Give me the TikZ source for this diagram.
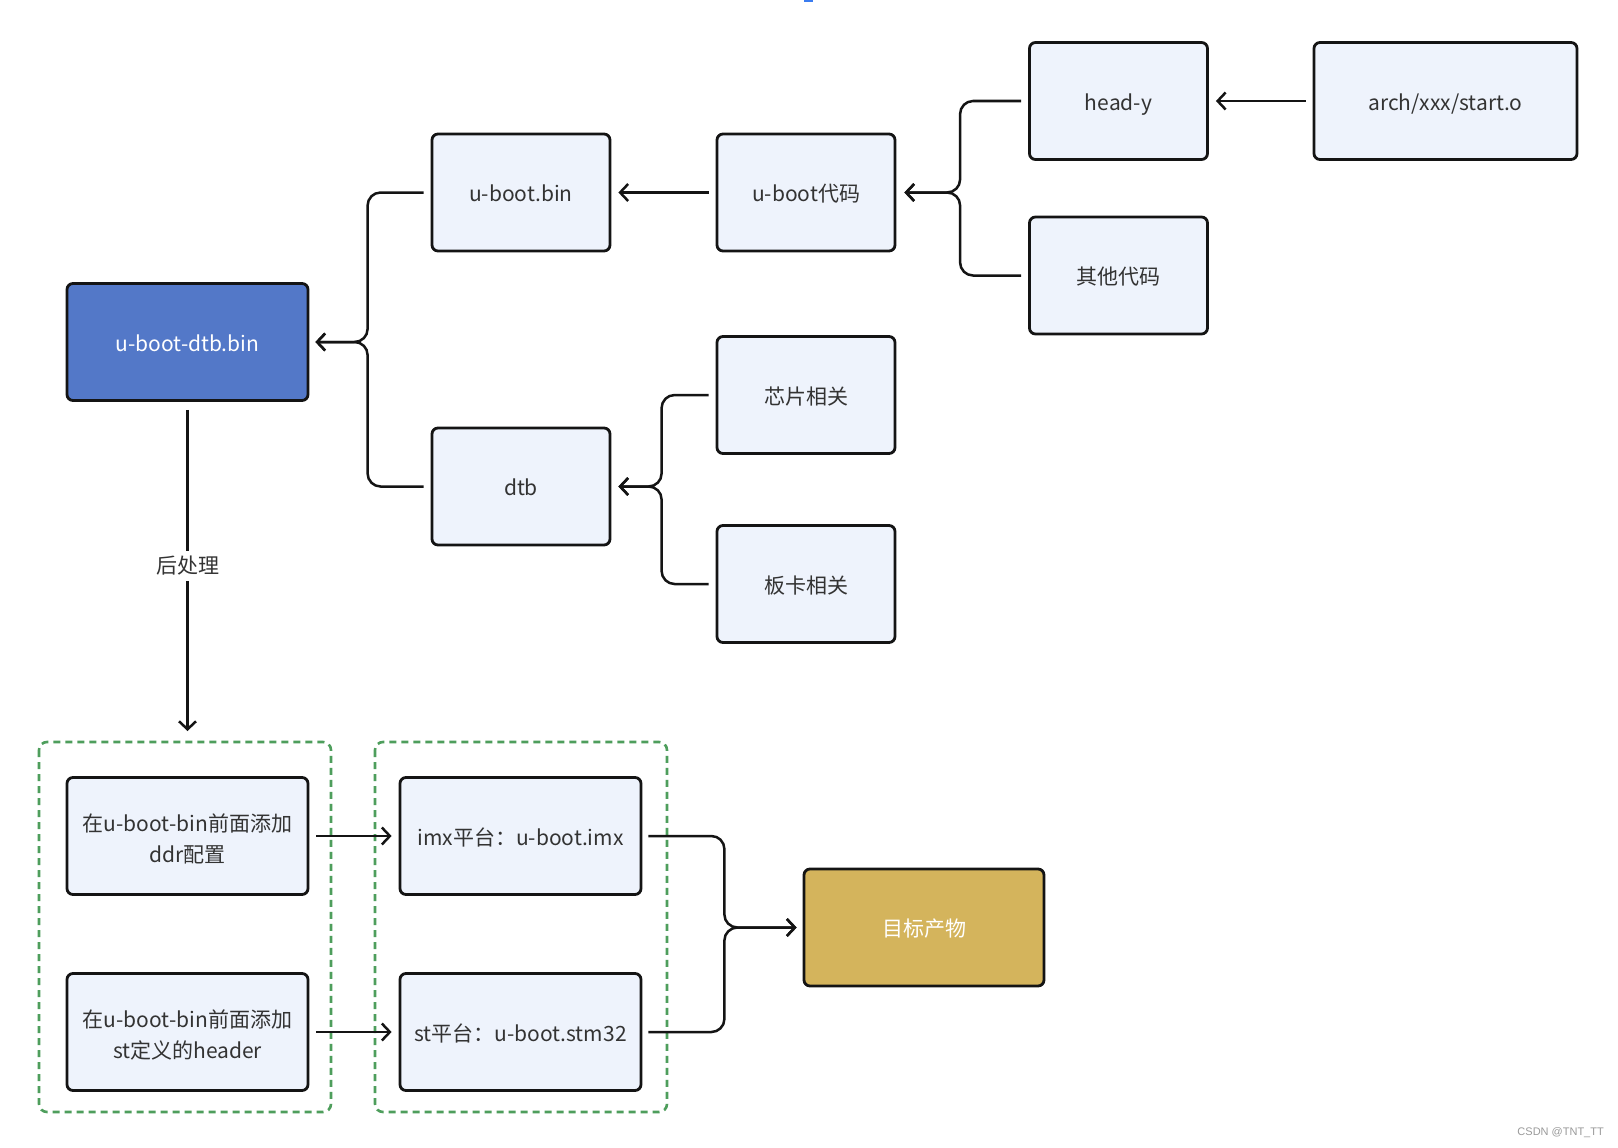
\documentclass[tikz,border=0pt]{standalone}
\usepackage{fontspec}
\setmainfont{Noto Sans CJK SC}
\newfontfamily\wmfont{Liberation Sans}
\usetikzlibrary{arrows.meta}
\definecolor{boxfill}{HTML}{EEF3FC}
\definecolor{boxline}{HTML}{141414}
\definecolor{txt}{HTML}{333333}
\definecolor{bluefill}{HTML}{5378C8}
\definecolor{goldfill}{HTML}{D4B45C}
\definecolor{grp}{HTML}{4E9E5C}
\definecolor{wm}{HTML}{9A9A9A}
\definecolor{topblue}{HTML}{3B7CF0}
\tikzset{
  box/.style={draw=boxline, line width=2.8pt, rounded corners=6pt, fill=boxfill,
    text=txt, font=\fontsize{21}{31}\selectfont, align=center,
    minimum width=178pt, minimum height=117pt, inner sep=0pt,
    text height=19.4pt, text depth=1pt},
  twoline/.style={text height=54pt, text depth=1pt},
  widebox/.style={box, minimum width=241pt},
  grpbox/.style={draw=grp, line width=2.6pt, dash pattern=on 7pt off 5pt, rounded corners=8pt},
  conn/.style={draw=boxline, line width=2.5pt, rounded corners=13pt,
    -{Straight Barb[length=8pt,width=17pt]}},
  plain/.style={draw=boxline, line width=2.5pt, rounded corners=13pt},
}
\begin{document}
\begin{tikzpicture}[x=1pt,y=-1pt]
\useasboundingbox (0,0) rectangle (1618,1148);
\fill[white] (0,0) rectangle (1618,1148);
\fill[topblue] (804,0) rectangle (813,1.6);
% groups
\draw[grpbox] (39,742) rectangle (331,1112);
\draw[grpbox] (375,742) rectangle (667,1112);
% nodes
\node[widebox, fill=bluefill, text=white] (dtbbin) at (187.5,342) {u-boot-dtb.bin};
\node[box] (ubootbin) at (521,192.5) {u-boot.bin};
\node[box] (dtb) at (521,486.5) {dtb};
\node[box] (ubootcode) at (806,192.5) {u-boot代码};
\node[box] (heady) at (1118.5,101) {head-y};
\node[box, minimum width=263pt] (arch) at (1445.5,101) {arch/xxx/start.o};
\node[box] (other) at (1118.5,275.5) {其他代码};
\node[box] (chip) at (806,395) {芯片相关};
\node[box] (board) at (806,584) {板卡相关};
\node[widebox, twoline] (ddr) at (187.5,836) {在u-boot-bin前面添加\\ddr配置};
\node[widebox, twoline] (header) at (187.5,1032) {在u-boot-bin前面添加\\st定义的header};
\node[widebox] (imx) at (520.5,836) {imx平台：u-boot.imx};
\node[widebox] (st) at (520.5,1032) {st平台：u-boot.stm32};
\node[widebox, minimum width=240pt, fill=goldfill, text=white] (target) at (924,927.5) {目标产物};
\node[text=txt, inner sep=5pt, font=\fontsize{21}{30}\selectfont] (post) at (187.5,566) {后处理};
% connectors
\draw[conn] ([xshift=-7pt]ubootbin.west) -- ++(-56,0) |- ([xshift=6pt]dtbbin.east);
\draw[conn] ([xshift=-7pt]dtb.west) -- ++(-56,0) |- ([xshift=6pt]dtbbin.east);
\draw[conn] ([xshift=-7pt]ubootcode.west) -- ([xshift=7pt]ubootbin.east);
\draw[conn] ([xshift=-7pt]heady.west) -- ++(-61,0) |- ([xshift=8pt]ubootcode.east);
\draw[conn] ([xshift=-7pt]other.west) -- ++(-61,0) |- ([xshift=8pt]ubootcode.east);
\draw[conn] ([xshift=-7pt]arch.west) -- ([xshift=7pt]heady.east);
\draw[conn] ([xshift=-7pt]chip.west) -- ++(-47,0) |- ([xshift=7pt]dtb.east);
\draw[conn] ([xshift=-7pt]board.west) -- ++(-47,0) |- ([xshift=7pt]dtb.east);
\draw[plain] ([yshift=-8pt]dtbbin.south) -- (post.north);
\draw[conn] (post.south) -- (187.5,731);
\draw[conn] ([xshift=7pt]ddr.east) -- ([xshift=-7pt]imx.west);
\draw[conn] ([xshift=7pt]header.east) -- ([xshift=-7pt]st.west);
\draw[conn] ([xshift=6pt]imx.east) -- ++(76,0) |- ([xshift=-6pt]target.west);
\draw[conn] ([xshift=6pt]st.east) -- ++(76,0) |- ([xshift=-6pt]target.west);
% watermark
\node[anchor=east, text=wm, font=\wmfont\fontsize{11}{13}\selectfont, inner sep=0pt] (wmark) at (1604,1133) {CSDN @TNT\_TT};
\end{tikzpicture}
\end{document}
